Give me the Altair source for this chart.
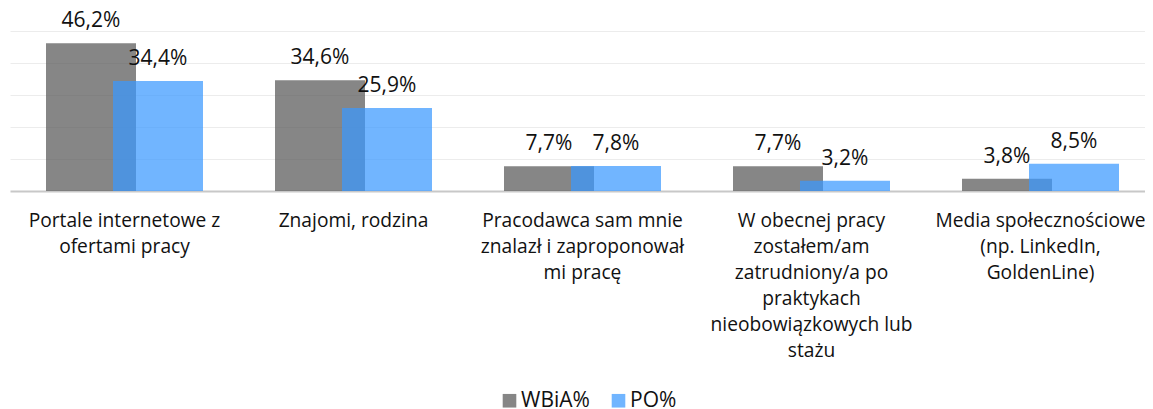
import altair as alt
import pandas as pd

categories = [
    "Portale internetowe z\nofertami pracy",
    "Znajomi, rodzina",
    "Pracodawca sam mnie\nznalazł i zaproponował\nmi pracę",
    "W obecnej pracy\nzostałem/am\nzatrudniony/a po\npraktykach\nnieobowiązkowych lub\nstażu",
    "Media społecznościowe\n(np. LinkedIn,\nGoldenLine)",
]
series = ["WBiA%", "PO%"]
wbia = [46.2, 34.6, 7.7, 7.7, 3.8]
po = [34.4, 25.9, 7.8, 3.2, 8.5]
colors = ["#585858", "#3a98ff"]

rows = []
for c, a, b in zip(categories, wbia, po):
    rows.append({"cat": c, "series": series[0], "value": a})
    rows.append({"cat": c, "series": series[1], "value": b})
df = pd.DataFrame(rows)

FONT = "Open Sans"
TXT = "#111111"

x = alt.X(
    "cat:N", sort=categories, title=None,
    scale=alt.Scale(range=[0, 1145], paddingInner=0, paddingOuter=0),
    axis=alt.Axis(labelAngle=0, labelExpr="split(datum.label, '\\n')",
                  labelFontSize=19.2, labelFont=FONT, labelColor=TXT,
                  labelLineHeight=26, labelPadding=20, ticks=False,
                  domainColor="#c8c8c8", domainWidth=2, grid=False,
                  labelLimit=0, labelOverlap=False, labelFlush=False),
)
y = alt.Y(
    "value:Q", title=None,
    scale=alt.Scale(domain=[0, 50], nice=False),
    axis=alt.Axis(values=[10, 20, 30, 40, 50], labels=False, ticks=False,
                  domain=False, gridColor="#ececec", gridWidth=1),
)
color = alt.Color(
    "series:N", sort=series,
    scale=alt.Scale(domain=series, range=colors),
    legend=alt.Legend(title=None, orient="none", legendX=489, legendY=359,
                      direction="horizontal", symbolType="square",
                      symbolSize=185, symbolOpacity=0.72, symbolStrokeWidth=0,
                      labelFontSize=21, labelFont=FONT, labelColor=TXT,
                      columnPadding=18, labelOffset=1),
)

base = alt.Chart(df).transform_calculate(
    label="replace(format(datum.value, '.1f'), '.', ',') + '%'"
)

OFF = 33.5
gray = base.transform_filter(alt.datum.series == series[0]).mark_bar(
    width=90, xOffset=-OFF, opacity=0.72).encode(x=x, y=y, color=color)
blue = base.transform_filter(alt.datum.series == series[1]).mark_bar(
    width=90, xOffset=OFF, opacity=0.72).encode(x=x, y=y, color=color)
gray_t = base.transform_filter(alt.datum.series == series[0]).mark_text(
    xOffset=-OFF, dy=-16, baseline="alphabetic", fontSize=21, font=FONT,
    color=TXT).encode(x=x, y=y, text="label:N")
blue_t = base.transform_filter(alt.datum.series == series[1]).mark_text(
    xOffset=OFF, dy=-16, baseline="alphabetic", fontSize=21, font=FONT,
    color=TXT).encode(x=x, y=y, text="label:N")

chart = alt.layer(gray, blue, gray_t, blue_t).properties(
    width=1135, height=160,
    autosize=alt.AutoSizeParams(type="none"),
    padding={"left": 2, "top": 23, "right": 0, "bottom": 219},
).configure_view(stroke=None)

chart.save("out.html", embed_options={"renderer": "svg", "actions": False})
